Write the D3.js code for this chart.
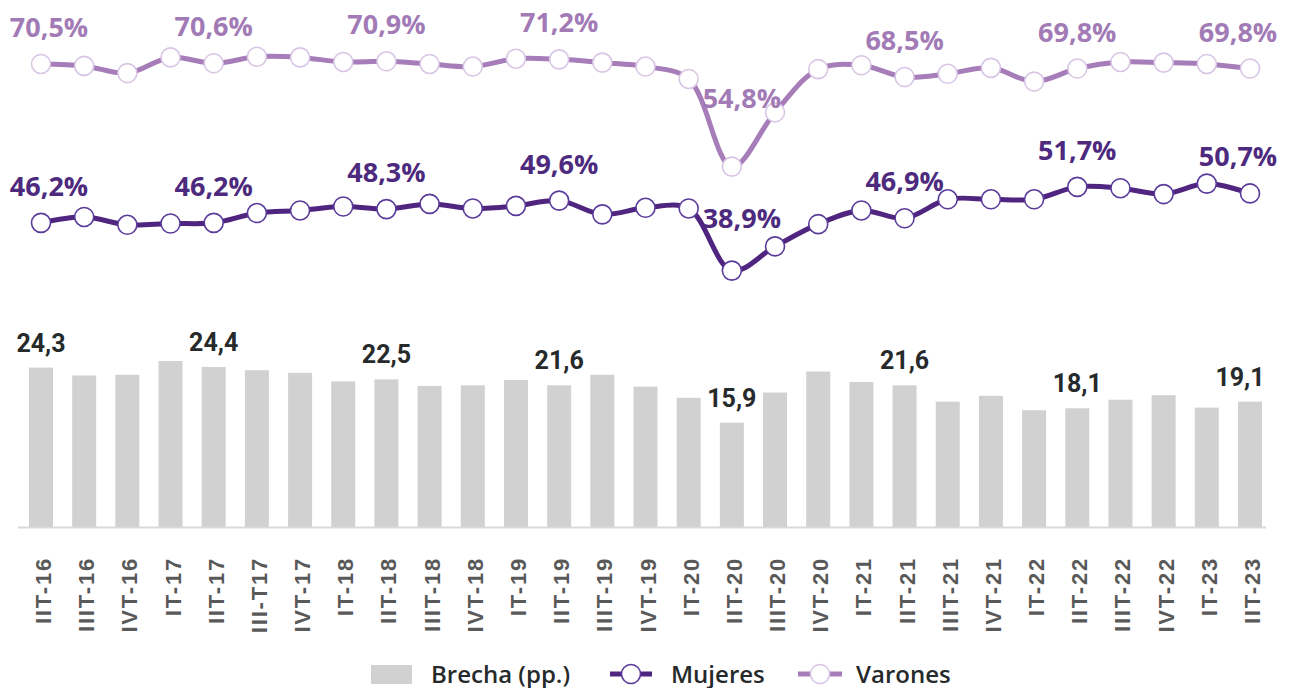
<!DOCTYPE html>
<meta charset="utf-8">
<style>
  body { margin: 0; background: #fff; }
</style>
<script src="https://d3js.org/d3.v7.min.js"></script>
<div id="my_dataviz"></div>
<script>

// quarters
var categories = ["IIT-16","IIIT-16","IVT-16","IT-17","IIT-17","III-T17","IVT-17",
  "IT-18","IIT-18","IIIT-18","IVT-18","IT-19","IIT-19","IIIT-19","IVT-19",
  "IT-20","IIT-20","IIIT-20","IVT-20","IT-21","IIT-21","IIIT-21","IVT-21",
  "IT-22","IIT-22","IIIT-22","IVT-22","IT-23","IIT-23"];

// gap in percentage points (bars)
var brecha = [24.3,23.1,23.2,25.3,24.4,23.9,23.5,22.2,22.5,21.5,21.6,22.4,21.6,23.2,21.4,
  19.7,15.9,20.5,23.7,22.1,21.6,19.1,20.0,17.8,18.1,19.4,20.1,18.2,19.1];

// rates (lines)
var mujeres = [46.2,47.1,45.9,46.1,46.2,47.7,48.1,48.7,48.3,49.1,48.4,48.8,49.6,47.5,48.5,
  48.4,38.9,42.6,46.0,48.1,46.9,49.8,49.8,49.8,51.7,51.5,50.6,52.2,50.7];
var varones = [70.5,70.2,69.1,71.5,70.6,71.6,71.5,70.8,70.9,70.5,70.1,71.3,71.2,70.7,70.1,
  68.2,54.8,63.1,69.7,70.3,68.5,69.0,69.9,67.8,69.8,70.8,70.7,70.5,69.8];

var width = 1293, height = 688;
var colMuj = "#4f2580", colVar = "#a67cb9";

var svg = d3.select("#my_dataviz")
  .append("svg")
    .attr("width", width)
    .attr("height", height);

var x = d3.scalePoint()
    .domain(categories)
    .range([41, 1250]);

var yBar = d3.scaleLinear().domain([0, 80]).range([527, 527 - 80 * 6.56]);
var yLine = d3.scaleLinear().domain([0, 80]).range([525, 525 - 80 * 6.54]);

var fmt = function(v) { return v.toFixed(1).replace(".", ","); };
var n = categories.length;

// bars
svg.selectAll("rect.bar")
  .data(brecha)
  .enter()
  .append("rect")
    .attr("class", "bar")
    .attr("x", function(d, i) { return x(categories[i]) - 12; })
    .attr("y", function(d) { return yBar(d); })
    .attr("width", 24)
    .attr("height", function(d) { return yBar(0) - yBar(d); })
    .style("fill", "#d0d1d0");

// baseline
svg.append("line")
  .attr("x1", 18).attr("x2", 1266)
  .attr("y1", yBar(0) + 0.5).attr("y2", yBar(0) + 0.5)
  .attr("stroke", "#d9d9d9").attr("stroke-width", 2);

// bar labels
svg.selectAll("text.blab")
  .data(brecha)
  .enter()
  .filter(function(d, i) { return i % 4 === 0; })
  .append("text")
    .attr("x", function(d, i) { var k = i * 4; return x(categories[k]) + (k === n - 1 ? -10 : 0); })
    .attr("y", function(d) { return yBar(d) - 16; })
    .text(function(d) { return fmt(d); })
    .style("font-family", "Roboto")
    .style("font-weight", "700")
    .style("font-size", "25px")
    .style("fill", "#262a2b")
    .style("text-anchor", "middle");

// x axis labels
categories.forEach(function(c) {
  svg.append("text")
    .attr("transform", "translate(" + (x(c) + 10) + ",557) rotate(-90)")
    .text(c)
    .style("font-family", "Liberation Sans")
    .style("font-weight", "700")
    .style("font-size", "22px")
    .style("letter-spacing", "1.8px")
    .style("fill", "#595959")
    .style("text-anchor", "end");
});

// lines
var line = d3.line()
  .x(function(d, i) { return x(categories[i]); })
  .y(function(d) { return yLine(d); })
  .curve(d3.curveCatmullRom.alpha(0.5));

function drawSeries(vals, col, ring) {
  svg.append("path")
    .datum(vals)
    .attr("d", line)
    .attr("fill", "none")
    .attr("stroke", col)
    .attr("stroke-width", 5);
  svg.selectAll(null)
    .data(vals)
    .enter()
    .append("circle")
      .attr("cx", function(d, i) { return x(categories[i]); })
      .attr("cy", function(d) { return yLine(d); })
      .attr("r", 9.5)
      .style("fill", "#fff")
      .style("stroke", ring)
      .style("stroke-width", 1.6);
}
drawSeries(varones, colVar, "#d8c6e4");
drawSeries(mujeres, colMuj, "#5a3b9b");

function labelX(i) {
  var px = x(categories[i]);
  if (i === 0) return px + 8;
  if (i === n - 1) return px - 12;
  if (i === 16) return px + 10;
  return px;
}

function drawLabels(vals, col, dipOffset) {
  vals.forEach(function(v, i) {
    if (i % 4 !== 0) return;
    svg.append("text")
      .attr("x", labelX(i))
      .attr("y", yLine(v) - (i === 16 ? dipOffset : 27))
      .text(fmt(v) + "%")
      .style("font-family", "Open Sans")
      .style("font-weight", "700")
      .style("font-size", "27px")
      .style("fill", col)
      .style("text-anchor", "middle");
  });
}
drawLabels(varones, "#a27bb6", 59);
drawLabels(mujeres, "#4d2a7e", 43);

// Handmade legend
var ly = 674;
var legendText = function(xp, t) {
  svg.append("text").attr("x", xp).attr("y", ly + 8.5).text(t)
    .style("font-family", "Open Sans").style("font-weight", "600").style("font-size", "24px")
    .style("fill", "#262a2b");
};
svg.append("rect").attr("x", 371).attr("y", ly - 9).attr("width", 41).attr("height", 19).style("fill", "#d0d1d0");
legendText(431, "Brecha (pp.)");

svg.append("line").attr("x1", 610).attr("x2", 652).attr("y1", ly).attr("y2", ly)
  .attr("stroke", colMuj).attr("stroke-width", 5);
svg.append("circle").attr("cx", 631).attr("cy", ly).attr("r", 9.5)
  .style("fill", "#fff").style("stroke", "#5a3b9b").style("stroke-width", 1.6);
legendText(671, "Mujeres");

svg.append("line").attr("x1", 798).attr("x2", 842).attr("y1", ly).attr("y2", ly)
  .attr("stroke", colVar).attr("stroke-width", 5);
svg.append("circle").attr("cx", 820).attr("cy", ly).attr("r", 9.5)
  .style("fill", "#fff").style("stroke", "#d8c6e4").style("stroke-width", 1.6);
legendText(856, "Varones");

</script>
